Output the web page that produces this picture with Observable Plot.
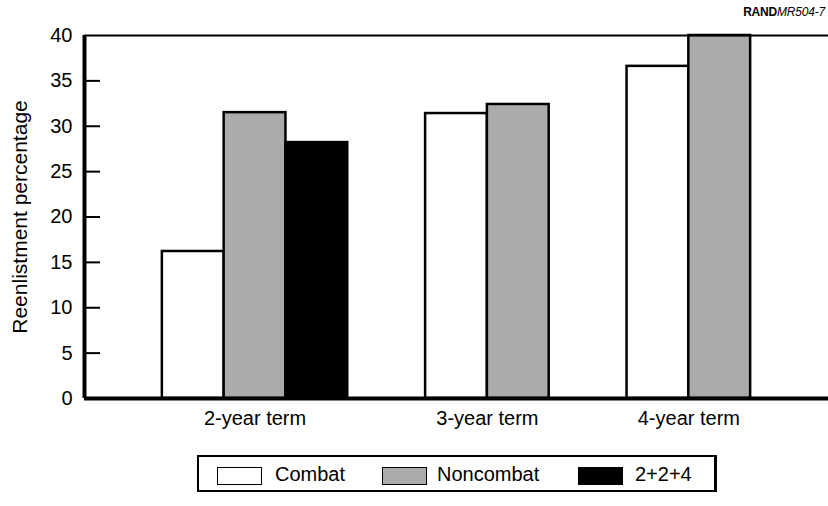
<!DOCTYPE html>
<html><head><meta charset="utf-8">
<script src="https://cdn.jsdelivr.net/npm/d3@7"></script>
<script src="https://cdn.jsdelivr.net/npm/@observablehq/plot@0.6"></script>
<style>
body{margin:0;background:#fff;font-family:"Liberation Sans",Arial,Helvetica,sans-serif;color:#000;}
#wrap{position:relative;width:828px;height:506px;overflow:hidden;}
#tag{position:absolute;right:3px;top:5px;font-size:12px;letter-spacing:-0.2px;}
#legend{position:absolute;left:197px;top:455px;width:515px;height:33px;border:2px solid #000;border-right-width:3px;}
.sw{position:absolute;top:10px;width:43px;height:16px;border:1.5px solid #000;}
.lt{position:absolute;top:6px;font-size:20px;line-height:23px;}
</style></head>
<body>
<div id="wrap"><div id="chart"></div><div id="tag"><b>RAND</b><i>MR504-7</i></div><div id="legend"></div></div>
<script>
// ---- data ----
const terms = ["2-year term", "3-year term", "4-year term"];
const seriesNames = ["Combat", "Noncombat", "2+2+4"];
const combat = [16.2, 31.4, 36.6];
const noncombat = [31.5, 32.4, 40];
const twoTwoFour = [28.2, null, null];
const yTicks = [0, 5, 10, 15, 20, 25, 30, 35, 40];
const seriesFills = ["#ffffff", "#ababab", "#000000"];

// ---- layout (bars of unit width, equal gaps between groups) ----
const seriesValues = [combat, noncombat, twoTwoFour];
const gap = 1.26;
const bars = [];
const groups = [];
let pos = 0;
terms.forEach((t, g) => {
  pos += gap;
  const start = pos;
  seriesNames.forEach((s, k) => {
    const v = seriesValues[k][g];
    if (v == null) return;
    bars.push({term: t, series: s, value: v, x1: pos, x2: pos + 1});
    pos += 1;
  });
  groups.push({term: t, center: (start + pos) / 2});
});
pos += gap;

const chart = Plot.plot({
  width: 828,
  height: 440,
  marginLeft: 84,
  marginRight: 0,
  marginTop: 35,
  marginBottom: 42,
  style: {fontFamily: '"Liberation Sans", Arial, sans-serif', fontSize: "20px", color: "#000", background: "#fff"},
  x: {domain: [0, pos], axis: null},
  y: {domain: [0, 40], axis: null},
  color: {domain: seriesNames, range: seriesFills},
  marks: [
    Plot.rectY(bars, {x1: "x1", x2: "x2", y1: 0, y2: "value", fill: "series", stroke: "#000", strokeWidth: 2.5}),
    Plot.ruleY([40], {stroke: "#000", strokeWidth: 2}),
    Plot.ruleY([0], {stroke: "#000", strokeWidth: 4}),
    Plot.ruleX([0], {stroke: "#000", strokeWidth: 4}),
    Plot.axisY(yTicks.filter(t => t > 0 && t < 40), {tickSize: -16, fill: "none", stroke: "#000", strokeWidth: 2, label: null}),
    Plot.axisY(yTicks, {tickSize: 0, tickPadding: 12, label: null, fontSize: 20, fill: "#000"}),
    Plot.text(["Reenlistment percentage"], {frameAnchor: "left", dx: -64, rotate: -90, textAnchor: "middle", fontSize: 21, fill: "#000"}),
    Plot.text(groups, {x: "center", text: "term", frameAnchor: "bottom", dy: 26, fontSize: 20, fill: "#000"})
  ]
});
document.getElementById("chart").appendChild(chart);

// ---- legend ----
const legend = document.getElementById("legend");
const swLeft = [18, 183, 379];
const txLeft = [76, 238, 436];
seriesNames.forEach((s, i) => {
  const sw = document.createElement("div");
  sw.className = "sw";
  sw.style.left = swLeft[i] + "px";
  sw.style.background = seriesFills[i];
  legend.appendChild(sw);
  const tx = document.createElement("div");
  tx.className = "lt";
  tx.style.left = txLeft[i] + "px";
  tx.textContent = s;
  legend.appendChild(tx);
});
</script>
</body></html>
